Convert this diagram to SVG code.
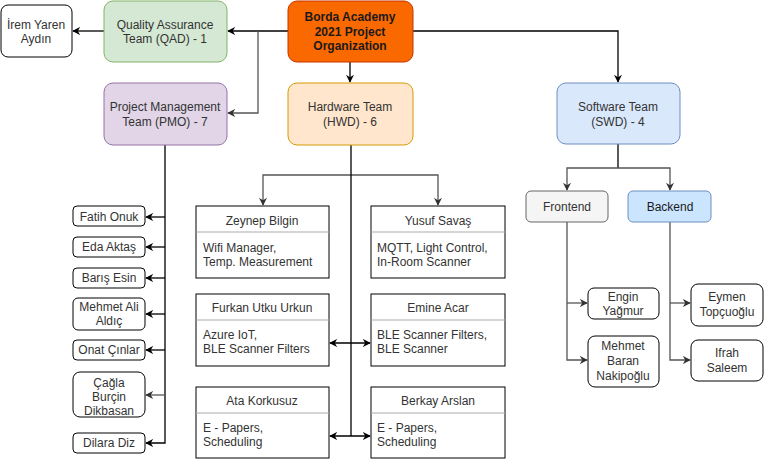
<svg xmlns="http://www.w3.org/2000/svg" width="764" height="463" viewBox="0 0 764 463">
<style>
text{font-family:"Liberation Sans",Arial,Helvetica,sans-serif;font-size:12px;fill:#333;text-anchor:middle}
.b{font-weight:bold;fill:#1a1a1a}
.l{text-anchor:start}
.w{fill:#fff;stroke:#000;stroke-width:1}
.c{fill:none;stroke:#000;stroke-width:1.3}
.g{fill:none;stroke:#555;stroke-width:1.3}
.div{stroke:#aaa;stroke-width:1}
</style>
<defs>
<marker id="a" viewBox="0 0 10 10" refX="9" refY="5" markerWidth="8" markerHeight="8" orient="auto-start-reverse" markerUnits="userSpaceOnUse">
<path d="M0,0 L10,5 L0,10 L3,5 z" fill="#000"/>
</marker>
<marker id="ag" viewBox="0 0 10 10" refX="9" refY="5" markerWidth="8" markerHeight="8" orient="auto-start-reverse" markerUnits="userSpaceOnUse">
<path d="M0,0 L10,5 L0,10 L3,5 z" fill="#333"/>
</marker>
</defs>

<g id="connectors">
<path class="c" d="M288,31 H228" marker-end="url(#a)"/>
<path class="g" d="M258,31 V113 H228" marker-end="url(#ag)"/>
<path class="c" d="M104,31 H73" marker-end="url(#a)"/>
<path class="c" d="M413,31 H618 V82" marker-end="url(#a)"/>
<path class="c" d="M350,62 V82" marker-end="url(#a)"/>
<path class="c" d="M618,144 V168"/>
<path class="g" d="M618,168 H567 V190" marker-end="url(#ag)"/>
<path class="g" d="M618,168 H670 V190" marker-end="url(#ag)"/>
<path class="c" d="M165,145 V443 H146" marker-end="url(#a)"/>
<path class="c" d="M165,217 H146" marker-end="url(#a)"/>
<path class="c" d="M165,247 H146" marker-end="url(#a)"/>
<path class="c" d="M165,278 H146" marker-end="url(#a)"/>
<path class="c" d="M165,314 H146" marker-end="url(#a)"/>
<path class="c" d="M165,350 H146" marker-end="url(#a)"/>
<path class="g" d="M165,395 H146" marker-end="url(#ag)"/>
<path class="g" d="M351,175 H263 V205" marker-end="url(#ag)"/>
<path class="g" d="M351,175 H438 V205" marker-end="url(#ag)"/>
<path class="c" d="M351,145 V436"/>
<path class="c" d="M330,343 H370" marker-start="url(#a)" marker-end="url(#a)"/>
<path class="c" d="M330,436 H370" marker-start="url(#a)" marker-end="url(#a)"/>
<path class="g" d="M567,222 V360 H587" marker-end="url(#ag)"/>
<path class="g" d="M567,303 H587" marker-end="url(#ag)"/>
<path class="g" d="M670,222 V360 H690" marker-end="url(#ag)"/>
<path class="g" d="M670,303 H690" marker-end="url(#ag)"/>
</g>

<g id="root">
<rect x="288" y="1" width="125" height="61" rx="9" fill="#fa6800" stroke="#c73500"/>
<text class="b" x="350" y="21">Borda Academy</text>
<text class="b" x="350" y="36">2021 Project</text>
<text class="b" x="350" y="50">Organization</text>
</g>
<g id="qad">
<rect x="104" y="1" width="123" height="61" rx="9" fill="#d5e8d4" stroke="#82b366"/>
<text x="165" y="29">Quality Assurance</text>
<text x="165" y="43">Team (QAD) - 1</text>
</g>
<g id="irem">
<rect class="w" x="1" y="5" width="71" height="52" rx="7"/>
<text x="36" y="29">İrem Yaren</text>
<text x="36" y="43">Aydın</text>
</g>
<g id="pmo">
<rect x="104" y="83" width="123" height="62" rx="9" fill="#e1d5e7" stroke="#9673a6"/>
<text x="165" y="111">Project Management</text>
<text x="165" y="126">Team (PMO) - 7</text>
</g>
<g id="hwd">
<rect x="288" y="83" width="125" height="62" rx="9" fill="#ffe6cc" stroke="#d79b00"/>
<text x="350" y="111">Hardware Team</text>
<text x="350" y="126">(HWD) - 6</text>
</g>
<g id="swd">
<rect x="557" y="83" width="123" height="61" rx="9" fill="#dae8fc" stroke="#6c8ebf"/>
<text x="618" y="111">Software Team</text>
<text x="618" y="126">(SWD) - 4</text>
</g>
<g id="frontend">
<rect x="526" y="191" width="82" height="31" rx="5" fill="#f5f5f5" stroke="#666"/>
<text x="567" y="211">Frontend</text>
</g>
<g id="backend">
<rect x="628" y="191" width="83" height="31" rx="5" fill="#cce5ff" stroke="#6c8ebf"/>
<text x="670" y="211" style="fill:#1a1a1a">Backend</text>
</g>

<g id="fatih"><rect class="w" x="73" y="206" width="72" height="20" rx="4"/><text x="109" y="221">Fatih Onuk</text></g>
<g id="eda"><rect class="w" x="73" y="237" width="72" height="20" rx="4"/><text x="109" y="251">Eda Aktaş</text></g>
<g id="baris"><rect class="w" x="73" y="268" width="72" height="20" rx="4"/><text x="109" y="282">Barış Esin</text></g>
<g id="mehmetali"><rect class="w" x="73" y="298" width="72" height="32" rx="5"/><text x="109" y="311">Mehmet Ali</text><text x="109" y="325">Aldıç</text></g>
<g id="onat"><rect class="w" x="73" y="340" width="72" height="20" rx="4"/><text x="109" y="354">Onat Çınlar</text></g>
<g id="cagla"><rect class="w" x="73" y="372" width="72" height="45" rx="7"/><text x="109" y="387">Çağla</text><text x="109" y="401">Burçin</text><text x="109" y="415">Dikbasan</text></g>
<g id="dilara"><rect class="w" x="73" y="433" width="72" height="20" rx="4"/><text x="109" y="447">Dilara Diz</text></g>

<g id="zeynep">
<rect class="w" x="196" y="206" width="133" height="72"/>
<line class="div" x1="196" y1="232" x2="329" y2="232"/>
<text x="262" y="225">Zeynep Bilgin</text>
<text class="l" x="203" y="252">Wifi Manager,</text>
<text class="l" x="203" y="266">Temp. Measurement</text>
</g>
<g id="yusuf">
<rect class="w" x="371" y="206" width="134" height="72"/>
<line class="div" x1="371" y1="232" x2="505" y2="232"/>
<text x="438" y="225">Yusuf Savaş</text>
<text class="l" x="377" y="252">MQTT, Light Control,</text>
<text class="l" x="377" y="266">In-Room Scanner</text>
</g>
<g id="furkan">
<rect class="w" x="196" y="294" width="133" height="72"/>
<line class="div" x1="196" y1="320" x2="329" y2="320"/>
<text x="262" y="312">Furkan Utku Urkun</text>
<text class="l" x="203" y="339">Azure IoT,</text>
<text class="l" x="203" y="353">BLE Scanner Filters</text>
</g>
<g id="emine">
<rect class="w" x="371" y="294" width="134" height="72"/>
<line class="div" x1="371" y1="320" x2="505" y2="320"/>
<text x="438" y="312">Emine Acar</text>
<text class="l" x="377" y="339">BLE Scanner Filters,</text>
<text class="l" x="377" y="353">BLE Scanner</text>
</g>
<g id="ata">
<rect class="w" x="196" y="387" width="133" height="71"/>
<line class="div" x1="196" y1="413" x2="329" y2="413"/>
<text x="262" y="405">Ata Korkusuz</text>
<text class="l" x="203" y="432">E - Papers,</text>
<text class="l" x="203" y="446">Scheduling</text>
</g>
<g id="berkay">
<rect class="w" x="371" y="387" width="134" height="71"/>
<line class="div" x1="371" y1="413" x2="505" y2="413"/>
<text x="438" y="405">Berkay Arslan</text>
<text class="l" x="377" y="432">E - Papers,</text>
<text class="l" x="377" y="446">Scheduling</text>
</g>

<g id="engin"><rect class="w" x="588" y="288" width="71" height="31" rx="6"/><text x="623" y="301">Engin</text><text x="623" y="315">Yağmur</text></g>
<g id="mehmetbaran"><rect class="w" x="588" y="336" width="71" height="51" rx="7"/><text x="623" y="350">Mehmet</text><text x="623" y="365">Baran</text><text x="623" y="380">Nakipoğlu</text></g>
<g id="eymen"><rect class="w" x="691" y="284" width="72" height="42" rx="7"/><text x="727" y="301">Eymen</text><text x="727" y="316">Topçuoğlu</text></g>
<g id="ifrah"><rect class="w" x="691" y="340" width="72" height="41" rx="7"/><text x="727" y="357">Ifrah</text><text x="727" y="372">Saleem</text></g>
</svg>
